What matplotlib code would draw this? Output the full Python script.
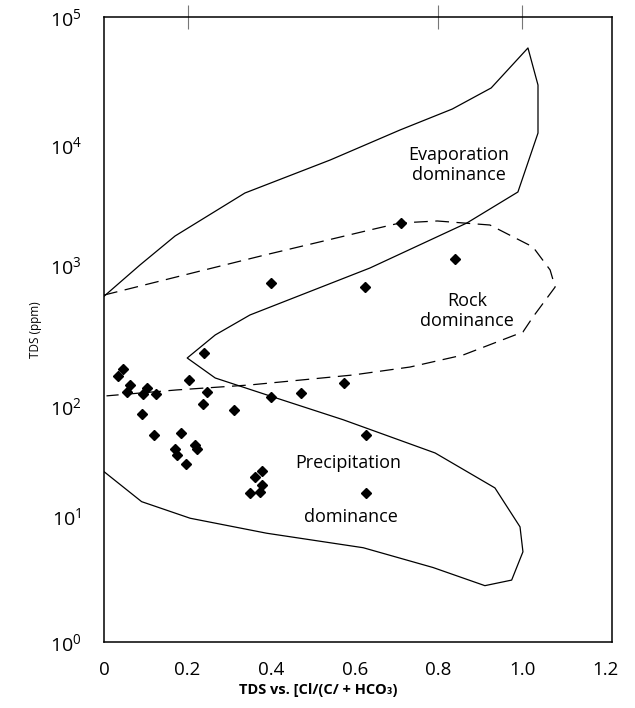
import numpy as np
import matplotlib
matplotlib.use("Agg")
import matplotlib.pyplot as plt
from matplotlib.ticker import FixedLocator, NullFormatter

plt.rcParams['font.family'] = ['Open Sans', 'DejaVu Sans']
plt.rcParams['mathtext.fontset'] = 'custom'
plt.rcParams['mathtext.rm'] = 'Open Sans'
plt.rcParams['mathtext.it'] = 'Open Sans'

# ---------------- data ----------------
# Gibbs boundary (solid): one continuous outline
gibbs_x = [0.0, 0.086, 0.170, 0.337, 0.541, 0.708, 0.833, 0.926, 1.014, 1.038, 1.038,
           0.990, 0.868, 0.636, 0.349, 0.266, 0.199, 0.266, 0.404, 0.572, 0.792, 0.935,
           0.995, 1.002, 0.975, 0.911, 0.787, 0.620, 0.389, 0.206, 0.090, 0.0]
gibbs_y = [600, 1000, 1745, 3980, 7500, 13100, 19100, 27900, 57300, 29400, 12400,
           4060, 2240, 952, 442, 319, 219, 158, 116, 75, 37.4, 18,
           8.2, 5.2, 3.1, 2.8, 3.9, 5.6, 7.3, 9.6, 13.5, 25.3]

# Rock dominance boundary (dashed)
rock_x = [0.0, 0.230, 0.385, 0.636, 0.708, 0.797, 0.923, 1.026, 1.067, 1.079, 1.026,
          1.002, 0.859, 0.732, 0.596, 0.349, 0.174, 0.006]
rock_y = [612, 906, 1212, 1958, 2240, 2327, 2154, 1413, 922, 698, 428,
          335, 230, 189, 166, 141, 130, 118]

# Samples
sample_x = [0.045, 0.034, 0.061, 0.054, 0.102, 0.093, 0.124, 0.239, 0.204, 0.246,
            0.236, 0.312, 0.400, 0.090, 0.120, 0.183, 0.170, 0.218, 0.222, 0.175,
            0.196, 0.377, 0.360, 0.377, 0.348, 0.372, 0.710, 0.840, 0.400, 0.624,
            0.575, 0.471, 0.627, 0.627]
sample_y = [182, 163, 141, 126, 134, 122, 122, 239, 153, 126,
            103, 92, 115, 85, 54, 56.5, 40.4, 44, 40.6, 35.9,
            29.7, 25.8, 22.8, 19.1, 16.3, 16.6, 2250, 1116, 741, 695,
            145, 123, 54.5, 16.3]

x_ticks = [0, 0.2, 0.4, 0.6, 0.8, 1.0, 1.2]
x_tick_labels = ['0', '0.2', '0.4', '0.6', '0.8', '1.0', '1.2']
y_ticks = [1, 10, 100, 1000, 1e4, 1e5]
y_tick_labels = ['$10^0$', '$10^1$', '$10^2$', '$10^3$', '$10^4$', '$10^5$']

# hand-drawn decade spacing of the original log axis (relative heights)
decade_pos = np.array([0, 126, 236, 377, 497, 625]) / 625.0
decades = np.arange(6)


def fwd(v):
    v = np.maximum(np.asarray(v, dtype=float), 1e-12)
    return np.interp(np.log10(v), decades, decade_pos)


def inv(u):
    return 10 ** np.interp(np.asarray(u, dtype=float), decade_pos, decades)


# ---------------- figure ----------------
W, H = 635, 708
fig = plt.figure(figsize=(W / 100, H / 100), dpi=100)
ax = fig.add_axes([104 / W, 1 - 642 / H, (612 - 104) / W, (642 - 17) / H])
ax.set_yscale('function', functions=(fwd, inv))
ax.set_xlim(0, 1.215)
ax.set_ylim(1, 1e5)

ax.plot(gibbs_x, gibbs_y, color='black', lw=0.9)
ax.plot(rock_x, rock_y, color='black', lw=0.9, dashes=(11, 6))
ax.plot(sample_x, sample_y, linestyle='none', marker='D', ms=5.5,
        color='black', mec='black')

for s in ax.spines.values():
    s.set_linewidth(1.1)

# labels
ax.set_xticks(x_ticks)
ax.set_xticklabels(x_tick_labels, fontsize=13.5)
ax.set_yticks(y_ticks)
ax.set_yticklabels(y_tick_labels, fontsize=14)
ax.tick_params(axis='both', which='major', length=0)
ax.tick_params(axis='x', which='major', pad=14)
ax.tick_params(axis='y', which='major', pad=16)

ax.xaxis.set_minor_locator(FixedLocator([0.2, 0.4, 0.6, 0.8, 1.0]))
ax.xaxis.set_minor_formatter(NullFormatter())
ax.tick_params(axis='x', which='minor', direction='inout', length=20,
               width=0.8, color='#777777', top=False)
ax.yaxis.set_minor_locator(FixedLocator([10, 100, 1000, 1e4]))
ax.yaxis.set_minor_formatter(NullFormatter())
ax.tick_params(axis='y', which='minor', direction='inout', length=22,
               width=0.9, color='#222222', left=True, right=True)

top = ax.secondary_xaxis('top')
top.set_xticks([0.2, 0.8, 1.0])
top.set_xticklabels([])
top.tick_params(direction='inout', length=17, width=0.8, color='#777777')
top.spines['top'].set_visible(False)

# region annotations
ax.text(0.849, 6800, 'Evaporation\ndominance', fontsize=13, ha='center',
        va='center', linespacing=1.15)
ax.text(0.868, 472, 'Rock\ndominance', fontsize=13, ha='center',
        va='center', linespacing=1.15)
ax.text(0.584, 30.3, 'Precipitation', fontsize=13, ha='center', va='center')
ax.text(0.591, 9.8, 'dominance', fontsize=13, ha='center', va='center')

fig.text(35 / W, 1 - 330 / H, 'TDS (ppm)', rotation=90, fontsize=8.5,
         ha='center', va='center')
fig.text(318 / W, 1 - 690 / H, 'TDS vs. [Cl/(C/ + HCO\u2083)', fontsize=10.5,
         fontweight='bold', ha='center', va='center', fontstretch='condensed')

fig.savefig('out.png', dpi=100)
